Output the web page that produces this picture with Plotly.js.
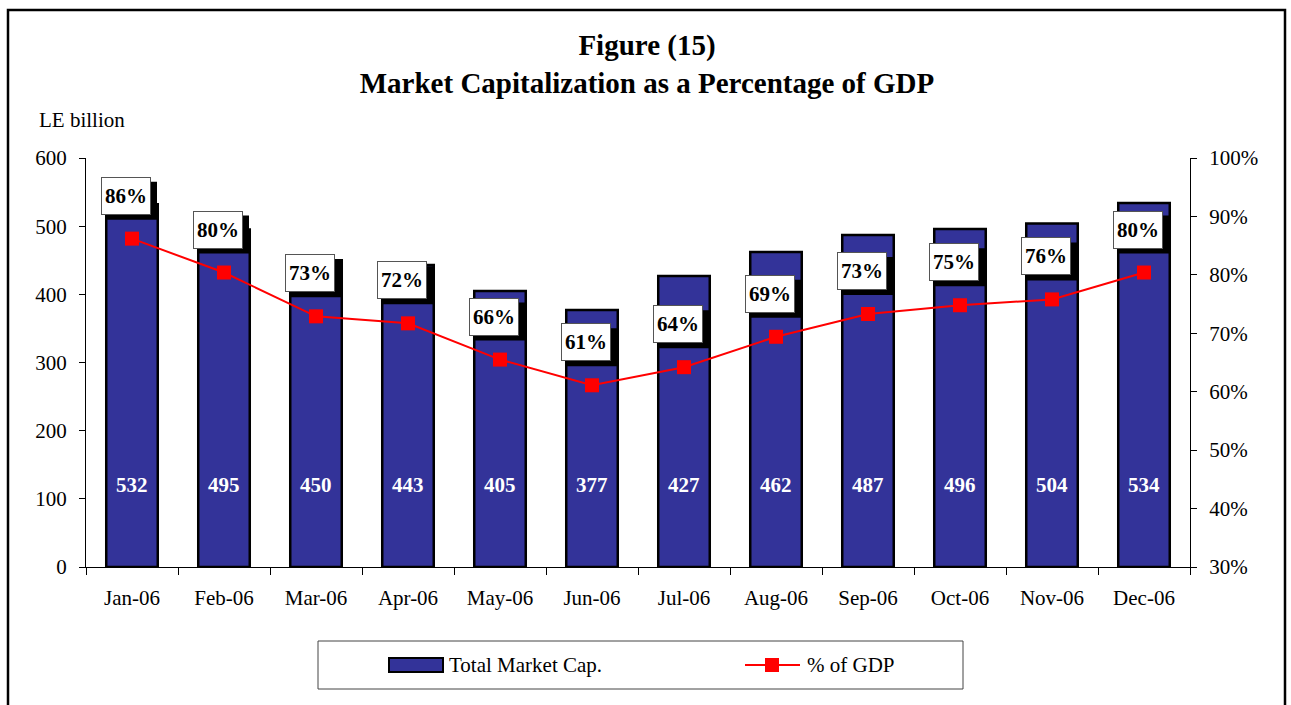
<!DOCTYPE html>
<html>
<head>
<meta charset="utf-8">
<script src="https://cdn.plot.ly/plotly-3.0.1.min.js"></script>
<style>html,body{margin:0;padding:0;background:#fff;}#chart{width:1291px;height:705px;}</style>
</head>
<body>
<div id="chart"></div>
<script>
const months = ['Jan-06','Feb-06','Mar-06','Apr-06','May-06','Jun-06','Jul-06','Aug-06','Sep-06','Oct-06','Nov-06','Dec-06'];
const marketCap = [532, 495, 450, 443, 405, 377, 427, 462, 487, 496, 504, 534];
const pctGDP = [86.2, 80.4, 72.9, 71.7, 65.5, 61.1, 64.2, 69.4, 73.3, 74.8, 75.8, 80.4];
const pctLabels = ['86%','80%','73%','72%','66%','61%','64%','69%','73%','75%','76%','80%'];
const leftTicks = [0, 100, 200, 300, 400, 500, 600];
const rightTicks = [30, 40, 50, 60, 70, 80, 90, 100];

const FONT = '"Liberation Serif", "Times New Roman", Times, serif';
const BLUE = '#333399';
const RED = '#ff0000';

// plot-area geometry (pixels) for paper conversions
const L = 86, R = 1190, T = 158, B = 567;
const px = x => (x - L) / (R - L);
const py = y => (B - y) / (B - T);

// label box offset from its marker (pixels), box size
const LBL_DX = -6, LBL_DY = 43, BOX_W = 50, BOX_H = 38, SH_DX = 6, SH_DY = 5;

const traces = [
  {
    type: 'bar', x: months, y: marketCap, name: 'Total Market Cap.',
    marker: {color: BLUE, line: {color: '#000', width: 2.5}},
    width: 0.56, yaxis: 'y', hoverinfo: 'x+y', showlegend: false
  },
  {
    type: 'scatter', mode: 'lines+markers', x: months, y: pctGDP, name: '% of GDP',
    yaxis: 'y2', line: {color: RED, width: 2},
    marker: {symbol: 'square', size: 14, color: RED}, showlegend: false
  }
];

const annotations = [];
const shapes = [];
// bar value labels
months.forEach((m, i) => {
  annotations.push({
    x: m, y: 120, xref: 'x', yref: 'y', text: '<b>' + marketCap[i] + '</b>',
    showarrow: false, font: {family: FONT, size: 21, color: '#fff'}
  });
});
// percentage labels: black shadow (shape) + white box (annotation)
months.forEach((m, i) => {
  shapes.push({
    type: 'rect', xref: 'x', yref: 'y2', xsizemode: 'pixel', ysizemode: 'pixel',
    xanchor: i, yanchor: pctGDP[i],
    x0: LBL_DX - BOX_W / 2 + SH_DX, x1: LBL_DX + BOX_W / 2 + SH_DX,
    y0: LBL_DY - BOX_H / 2 - SH_DY, y1: LBL_DY + BOX_H / 2 - SH_DY,
    fillcolor: '#000', line: {width: 0}, layer: 'above'
  });
  annotations.push({
    x: m, y: pctGDP[i], xref: 'x', yref: 'y2', showarrow: false,
    text: '<b>' + pctLabels[i] + '</b>', width: BOX_W - 6, height: BOX_H - 6, borderpad: 2,
    xshift: LBL_DX, yshift: LBL_DY, bgcolor: '#fff', bordercolor: '#555', borderwidth: 1,
    font: {family: FONT, size: 21, color: '#000'}
  });
});
// y-axis unit label
annotations.push({x: px(37), y: py(120), xref: 'paper', yref: 'paper', xanchor: 'left', yanchor: 'middle',
  text: 'LE billion', showarrow: false, font: {family: FONT, size: 21, color: '#000'}});
// custom legend texts
annotations.push({x: px(447), y: py(665), xref: 'paper', yref: 'paper', xanchor: 'left', yanchor: 'middle',
  text: 'Total Market Cap.', showarrow: false, font: {family: FONT, size: 21, color: '#000'}});
annotations.push({x: px(805), y: py(665), xref: 'paper', yref: 'paper', xanchor: 'left', yanchor: 'middle',
  text: '% of GDP', showarrow: false, font: {family: FONT, size: 21, color: '#000'}});

shapes.push(
  // outer frame
  {type: 'rect', xref: 'paper', yref: 'paper', x0: px(8), x1: px(1285), y0: py(730), y1: py(10),
   line: {color: '#000', width: 2.5}, fillcolor: 'rgba(0,0,0,0)', layer: 'below'},
  // legend box
  {type: 'rect', xref: 'paper', yref: 'paper', x0: px(318), x1: px(963), y0: py(689), y1: py(641),
   line: {color: '#444', width: 1}, fillcolor: 'rgba(0,0,0,0)'},
  // legend bar swatch
  {type: 'rect', xref: 'paper', yref: 'paper', x0: px(389), x1: px(443), y0: py(672), y1: py(658),
   line: {color: '#000', width: 2}, fillcolor: BLUE},
  // legend line swatch
  {type: 'line', xref: 'paper', yref: 'paper', x0: px(745), x1: px(800), y0: py(665), y1: py(665),
   line: {color: RED, width: 2}},
  {type: 'rect', xref: 'paper', yref: 'paper', x0: px(765), x1: px(779), y0: py(672), y1: py(658),
   line: {color: RED, width: 0}, fillcolor: RED}
);

const layout = {
  width: 1291, height: 705,
  margin: {l: L, r: 1291 - R, t: T, b: 705 - B, pad: 0},
  paper_bgcolor: '#fff', plot_bgcolor: '#fff',
  font: {family: FONT, size: 21, color: '#000'},
  title: {
    text: '<b>Figure (15)</b><br><b>Market Capitalization as a Percentage of GDP</b>',
    font: {family: FONT, size: 29, color: '#000'},
    x: 647 / 1291, xref: 'container', xanchor: 'center',
    y: 1 - 55 / 705, yref: 'container', yanchor: 'middle'
  },
  showlegend: false,
  xaxis: {
    type: 'category', range: [-0.5, 11.5], tickson: 'boundaries', ticks: 'outside', ticklen: 7,
    tickcolor: '#000', showline: true, linecolor: '#000', linewidth: 1, showgrid: false,
    tickfont: {family: FONT, size: 21, color: '#000'}, ticklabelstandoff: 12, fixedrange: true
  },
  yaxis: {
    range: [0, 600], tickvals: leftTicks, ticks: 'outside', ticklen: 6, tickcolor: '#000',
    showline: true, linecolor: '#000', linewidth: 1, showgrid: false, zeroline: false,
    tickfont: {family: FONT, size: 21, color: '#000'}, ticklabelstandoff: 8, fixedrange: true
  },
  yaxis2: {
    overlaying: 'y', side: 'right', range: [30, 100], tickvals: rightTicks,
    ticktext: rightTicks.map(v => v + '%'), ticks: 'outside', ticklen: 6, tickcolor: '#000',
    showline: true, linecolor: '#000', linewidth: 1, showgrid: false, zeroline: false,
    tickfont: {family: FONT, size: 21, color: '#000'}, ticklabelstandoff: 8, fixedrange: true
  },
  annotations: annotations,
  shapes: shapes
};

Plotly.newPlot('chart', traces, layout, {displayModeBar: false, staticPlot: true});
</script>
</body>
</html>
